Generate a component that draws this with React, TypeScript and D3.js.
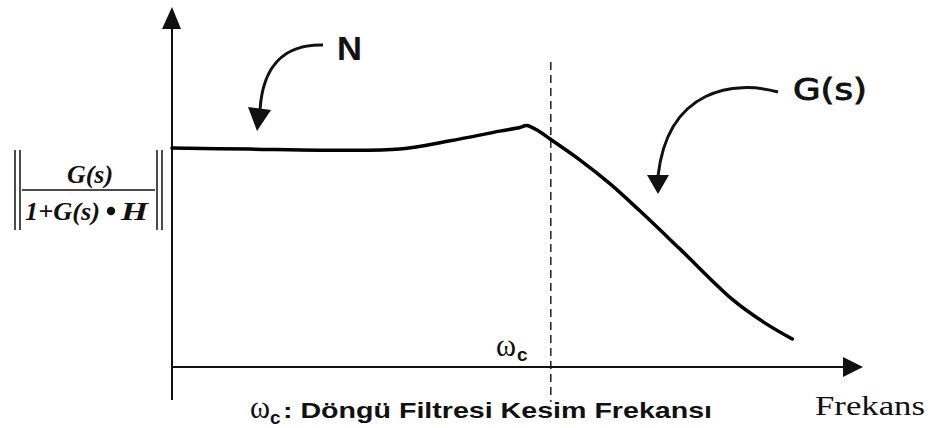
import React from "react";
import * as d3 from "d3";

// Closed-loop magnitude response (normalised frequency, normalised magnitude)
const frequency = [0, 11.3, 21.4, 33, 40.3, 47.5, 50.4, 51.4, 52.9, 54.8, 59.1, 63.5, 67.8, 73.6, 81.3, 85.9, 89.9];
const magnitude = [61, 60.7, 60.4, 60.7, 63, 65.7, 66.7, 67.3, 66.0, 63.5, 57.7, 51.0, 43.5, 32.9, 18.7, 12.3, 7.8];

// Loop-filter cutoff frequency
const cutoffFrequency = [54.9];

const axisLabels = ["Frekans"];
const curveLabels = ["N", "G(s)"];
const cutoffLabel = ["ω", "c"];
const captionText = [": Döngü Filtresi Kesim Frekansı"];

const W = 931;
const H = 428;

export default function App() {
  const x = d3.scaleLinear().domain([0, 100]).range([172, 862]);
  const y = d3.scaleLinear().domain([0, 100]).range([367, 8]);

  const points: [number, number][] = frequency.map((f, i) => [f, magnitude[i]]);
  const line = d3
    .line<[number, number]>()
    .x((d) => x(d[0]))
    .y((d) => y(d[1]))
    .curve(d3.curveCatmullRom.alpha(0.5));

  const x0 = x(0);
  const y0 = y(0);
  const xc = x(cutoffFrequency[0]);

  const serif = "'Liberation Serif', 'Times New Roman', serif";
  const sans = "'Liberation Sans', Arial, sans-serif";
  const ink = "#111";

  return (
    <svg
      width={W}
      height={H}
      viewBox={`0 0 ${W} ${H}`}
      style={{ position: "absolute", left: 0, top: 0, background: "#fff" }}
    >
      {/* axes */}
      <line x1={x0} x2={x0} y1={400} y2={26} stroke={ink} strokeWidth={2} />
      <path d={`M${x0},7 L${x0 - 10},29 L${x0 + 9},29 Z`} fill={ink} />
      <line x1={x0} x2={845} y1={y0} y2={y0} stroke={ink} strokeWidth={2} />
      <path d={`M863,${y0} L843,${y0 - 10} L843,${y0 + 10} Z`} fill={ink} />

      {/* cutoff marker */}
      <line
        x1={xc}
        x2={xc}
        y1={62}
        y2={402}
        stroke={ink}
        strokeWidth={1.4}
        strokeDasharray="8,5"
      />

      {/* response curve */}
      <path
        d={line(points) ?? ""}
        fill="none"
        stroke="#000"
        strokeWidth={3.5}
        strokeLinejoin="round"
        strokeLinecap="round"
      />

      {/* N annotation */}
      <text
        x={337}
        y={60}
        fontFamily={sans}
        fontWeight="bold"
        fontSize={33}
        textLength={25}
        lengthAdjust="spacingAndGlyphs"
        fill={ink}
      >
        {curveLabels[0]}
      </text>
      <path d="M323,45 C288,44 263,62 260,110" fill="none" stroke={ink} strokeWidth={3} />
      <path d="M248,107 L271,110 L257,131 Z" fill={ink} />

      {/* G(s) annotation */}
      <text
        x={793}
        y={100}
        fontFamily="'Comic Sans MS', 'DejaVu Sans', sans-serif"
        fontSize={30}
        textLength={74}
        lengthAdjust="spacingAndGlyphs"
        fill={ink}
        stroke={ink}
        strokeWidth={0.9}
      >
        {curveLabels[1]}
      </text>
      <path d="M778,92 C735,80 668,88 658,176" fill="none" stroke={ink} strokeWidth={3} />
      <path d="M647,175 L669,175 L658,194 Z" fill={ink} />

      {/* cutoff label next to the marker */}
      <text
        x={496}
        y={356}
        fontFamily={serif}
        fontSize={32}
        textLength={20}
        lengthAdjust="spacingAndGlyphs"
        fill={ink}
      >
        {cutoffLabel[0]}
      </text>
      <text x={517} y={361} fontFamily={sans} fontWeight="bold" fontSize={19} fill={ink}>
        {cutoffLabel[1]}
      </text>

      {/* y-axis label: |G(s) / (1+G(s)·H)| */}
      <g stroke={ink} strokeWidth={1.5}>
        <line x1={15} x2={15} y1={150} y2={230} />
        <line x1={20} x2={20} y1={150} y2={230} />
        <line x1={157} x2={157} y1={150} y2={230} />
        <line x1={162} x2={162} y1={150} y2={230} />
        <line x1={22} x2={155} y1={190} y2={190} />
      </g>
      <text
        x={67}
        y={183}
        fontFamily={serif}
        fontStyle="italic"
        fontWeight="bold"
        fontSize={25}
        textLength={46}
        lengthAdjust="spacingAndGlyphs"
        fill={ink}
      >
        G(s)
      </text>
      <text
        x={25}
        y={220}
        fontFamily={serif}
        fontStyle="italic"
        fontWeight="bold"
        fontSize={25}
        textLength={75}
        lengthAdjust="spacingAndGlyphs"
        fill={ink}
      >
        1+G(s)
      </text>
      <circle cx={111} cy={211} r={4.2} fill={ink} />
      <text
        x={121}
        y={220}
        fontFamily={serif}
        fontStyle="italic"
        fontWeight="bold"
        fontSize={25}
        textLength={27}
        lengthAdjust="spacingAndGlyphs"
        fill={ink}
      >
        H
      </text>

      {/* x-axis title */}
      <text
        x={815}
        y={415}
        fontFamily={serif}
        fontSize={27}
        textLength={110}
        lengthAdjust="spacingAndGlyphs"
        fill={ink}
      >
        {axisLabels[0]}
      </text>

      {/* caption */}
      <text
        x={250}
        y={418}
        fontFamily={serif}
        fontSize={32}
        textLength={20}
        lengthAdjust="spacingAndGlyphs"
        fill={ink}
      >
        {cutoffLabel[0]}
      </text>
      <text x={270} y={424} fontFamily={sans} fontWeight="bold" fontSize={19} fill={ink}>
        {cutoffLabel[1]}
      </text>
      <text
        x={283}
        y={418}
        fontFamily={sans}
        fontWeight="bold"
        fontSize={22}
        textLength={429}
        lengthAdjust="spacingAndGlyphs"
        fill={ink}
      >
        {captionText[0]}
      </text>
    </svg>
  );
}
